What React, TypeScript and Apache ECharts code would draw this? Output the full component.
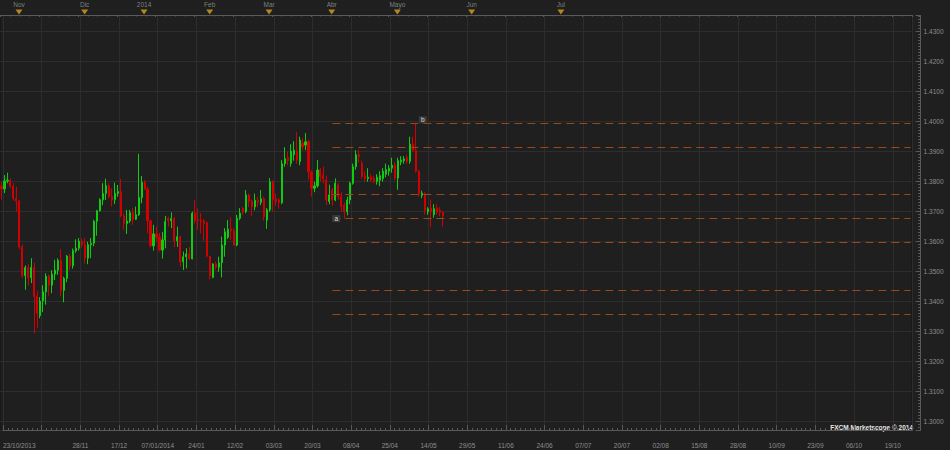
import React, { useEffect, useRef } from "react";
import * as echarts from "echarts";

// ---- data (EUR/USD daily, 23/10/2013 .. 21/05/2014) ----
const opens = [
  1.3785, 1.3776, 1.3802, 1.3805, 1.3785, 1.3745, 1.3736, 1.3582, 1.3487, 1.3514,
  1.3480, 1.3514, 1.3417, 1.3354, 1.3402, 1.3433, 1.3485, 1.3455, 1.3492, 1.3505,
  1.3538, 1.3438, 1.3478, 1.3552, 1.3520, 1.3570, 1.3578, 1.3602, 1.3590, 1.3545,
  1.3590, 1.3595, 1.3668, 1.3703, 1.3740, 1.3761, 1.3787, 1.3750, 1.3740, 1.3761,
  1.3767, 1.3686, 1.3661, 1.3669, 1.3697, 1.3675, 1.3690, 1.3747, 1.3798, 1.3775,
  1.3670, 1.3586, 1.3626, 1.3615, 1.3572, 1.3606, 1.3677, 1.3670, 1.3677, 1.3603,
  1.3617, 1.3533, 1.3550, 1.3559, 1.3543, 1.3695, 1.3673, 1.3672, 1.3669, 1.3663,
  1.3552, 1.3481, 1.3526, 1.3515, 1.3530, 1.3589, 1.3615, 1.3642, 1.3636, 1.3589,
  1.3678, 1.3711, 1.3700, 1.3756, 1.3735, 1.3716, 1.3738, 1.3731, 1.3743, 1.3672,
  1.3706, 1.3800, 1.3743, 1.3740, 1.3730, 1.3860, 1.3880, 1.3861, 1.3890, 1.3902,
  1.3867, 1.3928, 1.3922, 1.3933, 1.3833, 1.3778, 1.3786, 1.3839, 1.3822, 1.3806,
  1.3734, 1.3773, 1.3739, 1.3789, 1.3750, 1.3722, 1.3700, 1.3739, 1.3795, 1.3850,
  1.3890, 1.3862, 1.3820, 1.3810, 1.3815, 1.3810, 1.3801, 1.3805, 1.3810, 1.3825,
  1.3835, 1.3845, 1.3855, 1.3812, 1.3866, 1.3870, 1.3880, 1.3868, 1.3925, 1.3905,
  1.3835, 1.3755, 1.3760, 1.3700, 1.3712, 1.3690, 1.3712, 1.3705, 1.3698,
];
const highs = [
  1.3800, 1.3822, 1.3830, 1.3811, 1.3795, 1.3783, 1.3740, 1.3590, 1.3521, 1.3525,
  1.3545, 1.3530, 1.3435, 1.3415, 1.3455, 1.3495, 1.3490, 1.3505, 1.3540, 1.3545,
  1.3575, 1.3483, 1.3556, 1.3560, 1.3577, 1.3608, 1.3612, 1.3611, 1.3612, 1.3600,
  1.3612, 1.3673, 1.3706, 1.3745, 1.3795, 1.3810, 1.3795, 1.3778, 1.3797, 1.3789,
  1.3810, 1.3695, 1.3706, 1.3706, 1.3712, 1.3717, 1.3893, 1.3819, 1.3806, 1.3783,
  1.3672, 1.3656, 1.3650, 1.3630, 1.3633, 1.3686, 1.3683, 1.3698, 1.3683, 1.3650,
  1.3619, 1.3567, 1.3578, 1.3583, 1.3700, 1.3739, 1.3711, 1.3695, 1.3675, 1.3667,
  1.3552, 1.3528, 1.3534, 1.3550, 1.3617, 1.3645, 1.3672, 1.3681, 1.3645, 1.3689,
  1.3712, 1.3716, 1.3772, 1.3760, 1.3740, 1.3760, 1.3750, 1.3772, 1.3750, 1.3712,
  1.3812, 1.3805, 1.3760, 1.3745, 1.3872, 1.3915, 1.3900, 1.3925, 1.3935, 1.3965,
  1.3950, 1.3945, 1.3962, 1.3940, 1.3838, 1.3800, 1.3872, 1.3845, 1.3850, 1.3820,
  1.3790, 1.3780, 1.3811, 1.3795, 1.3765, 1.3730, 1.3750, 1.3800, 1.3860, 1.3905,
  1.3907, 1.3870, 1.3835, 1.3845, 1.3825, 1.3820, 1.3825, 1.3835, 1.3845, 1.3860,
  1.3855, 1.3880, 1.3865, 1.3880, 1.3885, 1.3885, 1.3890, 1.3950, 1.3950, 1.3993,
  1.3840, 1.3770, 1.3765, 1.3715, 1.3740, 1.3725, 1.3725, 1.3715, 1.3702,
];
const lows = [
  1.3740, 1.3762, 1.3795, 1.3778, 1.3737, 1.3700, 1.3575, 1.3480, 1.3440, 1.3455,
  1.3462, 1.3295, 1.3312, 1.3345, 1.3365, 1.3390, 1.3420, 1.3428, 1.3472, 1.3490,
  1.3418, 1.3398, 1.3465, 1.3505, 1.3510, 1.3563, 1.3570, 1.3580, 1.3528, 1.3525,
  1.3545, 1.3585, 1.3620, 1.3700, 1.3722, 1.3739, 1.3745, 1.3717, 1.3725, 1.3750,
  1.3681, 1.3640, 1.3626, 1.3662, 1.3656, 1.3672, 1.3686, 1.3728, 1.3772, 1.3628,
  1.3581, 1.3570, 1.3597, 1.3567, 1.3544, 1.3578, 1.3650, 1.3645, 1.3582, 1.3583,
  1.3517, 1.3506, 1.3511, 1.3539, 1.3541, 1.3661, 1.3639, 1.3628, 1.3603, 1.3548,
  1.3474, 1.3478, 1.3506, 1.3500, 1.3481, 1.3550, 1.3609, 1.3606, 1.3587, 1.3585,
  1.3672, 1.3690, 1.3695, 1.3715, 1.3685, 1.3705, 1.3715, 1.3722, 1.3670, 1.3643,
  1.3700, 1.3700, 1.3720, 1.3710, 1.3725, 1.3850, 1.3855, 1.3850, 1.3870, 1.3860,
  1.3855, 1.3905, 1.3905, 1.3806, 1.3750, 1.3765, 1.3780, 1.3800, 1.3795, 1.3722,
  1.3725, 1.3720, 1.3735, 1.3740, 1.3700, 1.3677, 1.3688, 1.3725, 1.3790, 1.3840,
  1.3865, 1.3810, 1.3800, 1.3800, 1.3800, 1.3795, 1.3790, 1.3785, 1.3800, 1.3815,
  1.3820, 1.3830, 1.3805, 1.3773, 1.3855, 1.3860, 1.3860, 1.3860, 1.3900, 1.3830,
  1.3750, 1.3745, 1.3690, 1.3690, 1.3648, 1.3680, 1.3690, 1.3685, 1.3650,
];
const closes = [
  1.3776, 1.3802, 1.3805, 1.3785, 1.3745, 1.3735, 1.3582, 1.3486, 1.3514, 1.3480,
  1.3514, 1.3417, 1.3362, 1.3402, 1.3433, 1.3485, 1.3455, 1.3492, 1.3505, 1.3538,
  1.3438, 1.3478, 1.3552, 1.3520, 1.3570, 1.3578, 1.3602, 1.3590, 1.3545, 1.3590,
  1.3595, 1.3668, 1.3703, 1.3740, 1.3761, 1.3787, 1.3750, 1.3740, 1.3761, 1.3767,
  1.3686, 1.3661, 1.3669, 1.3697, 1.3675, 1.3690, 1.3747, 1.3798, 1.3775, 1.3670,
  1.3586, 1.3626, 1.3615, 1.3572, 1.3606, 1.3667, 1.3670, 1.3677, 1.3603, 1.3617,
  1.3533, 1.3550, 1.3559, 1.3543, 1.3695, 1.3670, 1.3670, 1.3666, 1.3661, 1.3552,
  1.3486, 1.3526, 1.3515, 1.3530, 1.3589, 1.3633, 1.3642, 1.3636, 1.3589, 1.3678,
  1.3695, 1.3700, 1.3756, 1.3735, 1.3716, 1.3738, 1.3731, 1.3743, 1.3683, 1.3706,
  1.3800, 1.3740, 1.3733, 1.3730, 1.3860, 1.3877, 1.3870, 1.3902, 1.3905, 1.3872,
  1.3939, 1.3917, 1.3933, 1.3833, 1.3778, 1.3786, 1.3839, 1.3817, 1.3810, 1.3739,
  1.3756, 1.3739, 1.3795, 1.3750, 1.3717, 1.3700, 1.3739, 1.3795, 1.3850, 1.3890,
  1.3884, 1.3817, 1.3810, 1.3815, 1.3806, 1.3801, 1.3815, 1.3820, 1.3835, 1.3840,
  1.3845, 1.3855, 1.3812, 1.3870, 1.3872, 1.3876, 1.3868, 1.3925, 1.3905, 1.3835,
  1.3760, 1.3762, 1.3705, 1.3710, 1.3700, 1.3710, 1.3700, 1.3698, 1.36857,
];

// bottom tick labels, one every 13 bars (index 0, 13, 26, ...)
const tickLabels = [
  "23/10/2013", "", "28/11", "17/12", "07/01/2014", "24/01", "12/02", "03/03",
  "20/03", "08/04", "25/04", "14/05", "29/05", "11/06", "24/06", "07/07",
  "20/07", "02/08", "15/08", "28/08", "10/09", "23/09", "06/10", "19/10",
];
// top month markers (bar index where each marker sits)
const monthNames = ["Nov", "Dic", "2014", "Feb", "Mar", "Abr", "Mayo", "Jun", "Jul"];
const monthAt = [6.2, 28.2, 48.1, 70.1, 90.0, 111.0, 133.0, 157.9, 187.8];
// Fibonacci-style levels drawn from the "a"/"b" swing
const fibLevels = [1.3994, 1.3914, 1.37573, 1.36773, 1.35973, 1.34373, 1.33573];
const fibStartIndex = 111;
const aIndex = 115;
const bIndex = 139;
const lastPrice = 1.36857;

const TOTAL_SLOTS = 306;
const HOLIDAYS = ["2013-12-25", "2014-01-01"];

function buildCategories(): string[] {
  const out: string[] = [];
  const d = new Date(Date.UTC(2013, 9, 23));
  const pad = (n: number) => (n < 10 ? "0" + n : "" + n);
  const iso = (x: Date) => x.getUTCFullYear() + "-" + pad(x.getUTCMonth() + 1) + "-" + pad(x.getUTCDate());
  while (out.length < TOTAL_SLOTS) {
    const wd = d.getUTCDay();
    const s = iso(d);
    const trading = out.length < opens.length;
    if (!trading || (wd !== 0 && wd !== 6 && HOLIDAYS.indexOf(s) < 0)) out.push(s);
    d.setUTCDate(d.getUTCDate() + 1);
  }
  return out;
}

const BG = "#1f1f1f";
const GRID = "#2d2d2d";
const AXIS = "#5a5a5a";
const LABEL = "#8e8e8e";
const UP = "#10cc10";
const DOWN = "#d20000";
const FIB = "#9a4a18";
const FONT = '"Liberation Sans", Arial, sans-serif';

const STEP = 2.984; // px per bar
const X0 = 0.5; // centre of bar 0
const PLOT_TOP = 15.5;
const PLOT_H = 415;
const XMAX = TOTAL_SLOTS - 0.5;

export default function App() {
  const ref = useRef<HTMLDivElement>(null);
  useEffect(() => {
    document.body.style.margin = "0";
    const chart = echarts.init(ref.current!, null, { renderer: "svg" });
    const categories = buildCategories();
    const candleData = opens.map((o, i) => [o, closes[i], lows[i], highs[i]]);
    // y mapping: 1.3800 at y=181.7, 3000 px per unit
    const yMax = 1.38 + (181.7 - PLOT_TOP) / 3000;
    const yMin = 1.38 - (PLOT_TOP + PLOT_H - 181.7) / 3000;
    const gridW = TOTAL_SLOTS * STEP;
    const gridLeft = X0 - STEP / 2;

    chart.setOption({
      animation: false,
      backgroundColor: BG,
      textStyle: { fontFamily: FONT },
      grid: [
        { left: gridLeft, top: PLOT_TOP, width: gridW, height: PLOT_H, show: true, borderColor: "#111111", borderWidth: 1, backgroundColor: "transparent" },
        { left: X0, top: PLOT_TOP, width: XMAX * STEP, height: PLOT_H },
        { left: X0, top: 9, width: XMAX * STEP, height: 6 },
      ],
      xAxis: [
        {
          type: "category", gridIndex: 0, data: categories, boundaryGap: true,
          axisLine: { show: false }, axisTick: { show: false }, axisLabel: { show: false }, splitLine: { show: false },
        },
        {
          type: "value", gridIndex: 1, min: 0, max: XMAX, interval: 13, position: "bottom", offset: 6.5,
          axisLine: { show: true, lineStyle: { color: AXIS } },
          axisTick: { show: true, inside: true, length: 5.5, lineStyle: { color: AXIS } },
          minorTick: { show: true, splitNumber: 8, length: 2.5, lineStyle: { color: AXIS } },
          splitLine: { show: true, lineStyle: { color: GRID } },
          minorSplitLine: { show: false },
          axisLabel: {
            color: LABEL, fontSize: 6.5, fontFamily: FONT, margin: 4.5, alignMinLabel: "left", showMaxLabel: false,
            formatter: (v: number) => {
              const k = Math.round(v / 13);
              return Math.abs(v - k * 13) < 1e-6 && tickLabels[k] !== undefined ? tickLabels[k] : "";
            },
          },
        },
        {
          type: "value", gridIndex: 2, min: 0, max: XMAX, interval: 13, position: "top",
          axisLine: { show: true, lineStyle: { color: AXIS } },
          axisTick: { show: true, inside: true, length: 2, lineStyle: { color: AXIS } },
          minorTick: { show: true, splitNumber: 4, length: 1.5, lineStyle: { color: AXIS } },
          splitLine: { show: false },
          axisLabel: { show: false },
        },
      ],
      yAxis: [
        {
          type: "value", gridIndex: 0, position: "right", offset: 8.5, min: yMin, max: yMax, splitNumber: 14, scale: true,
          axisLine: { show: true, lineStyle: { color: AXIS } },
          axisTick: { show: true, inside: true, length: 5, lineStyle: { color: AXIS } },
          minorTick: { show: true, splitNumber: 10, length: 2.5, lineStyle: { color: AXIS } },
          splitLine: { show: true, lineStyle: { color: GRID } },
          axisLabel: {
            color: LABEL, fontSize: 6.5, fontFamily: FONT, margin: 3, showMinLabel: false, showMaxLabel: false,
            formatter: (v: number) => v.toFixed(4),
          },
        },
        { type: "value", gridIndex: 1, min: 0, max: 1, show: false },
        { type: "value", gridIndex: 2, min: 0, max: 1, show: false },
      ],
      series: [
        {
          type: "candlestick", xAxisIndex: 0, yAxisIndex: 0, data: candleData, barWidth: 1.6,
          itemStyle: { color: UP, color0: DOWN, borderColor: UP, borderColor0: DOWN, borderWidth: 1 },
          markLine: {
            silent: true, symbol: ["none", "none"], animation: false,
            lineStyle: { color: FIB, type: [8, 5], width: 1, opacity: 1 },
            emphasis: { disabled: true },
            label: { show: false },
            data: [
              ...fibLevels.map((v) => [
                { coord: [fibStartIndex, v] },
                { coord: [TOTAL_SLOTS - 1, v] },
              ]),
              {
                yAxis: lastPrice, lineStyle: { opacity: 0 },
                label: {
                  show: true, position: "end", distance: 9.5, formatter: lastPrice.toFixed(5),
                  color: "#0d2624", backgroundColor: "#5fb7b0", padding: [1, 1, 0, 1], fontSize: 6.5, fontFamily: FONT,
                },
              },
            ],
          },
          markPoint: {
            silent: true, symbol: "rect", symbolSize: [8, 7], animation: false,
            itemStyle: { color: "#3a3a3a" },
            label: { show: true, color: "#d8d8d8", fontSize: 6.5, fontFamily: FONT, formatter: "{b}" },
            data: [
              { name: "a", coord: [aIndex, lows[aIndex]], symbolOffset: [-8, 0] },
              { name: "b", coord: [bIndex, highs[bIndex]], symbolOffset: [7, -4] },
            ],
          },
        },
        {
          type: "scatter", xAxisIndex: 2, yAxisIndex: 2, silent: true,
          data: monthAt.map((x, i) => ({ name: monthNames[i], value: [x, 0.5] })),
          symbol: "path://M0,0 L10,0 L5,8 Z", symbolSize: [7, 5],
          itemStyle: { color: "#d9a21b" },
          label: { show: true, position: "top", distance: 2, formatter: "{b}", color: "#9a9a9a", fontSize: 6.5, fontFamily: FONT },
        },
      ],
      graphic: [
        {
          type: "text", right: 37, top: 423.5, silent: true,
          style: { text: "FXCM Marketscope © 2014", fill: "#e6e6e6", font: "bold 6.5px " + FONT },
        },
      ],
    });
    return () => chart.dispose();
  }, []);
  return <div ref={ref} style={{ position: "fixed", left: 0, top: 0, width: 950, height: 450, background: BG }} />;
}
